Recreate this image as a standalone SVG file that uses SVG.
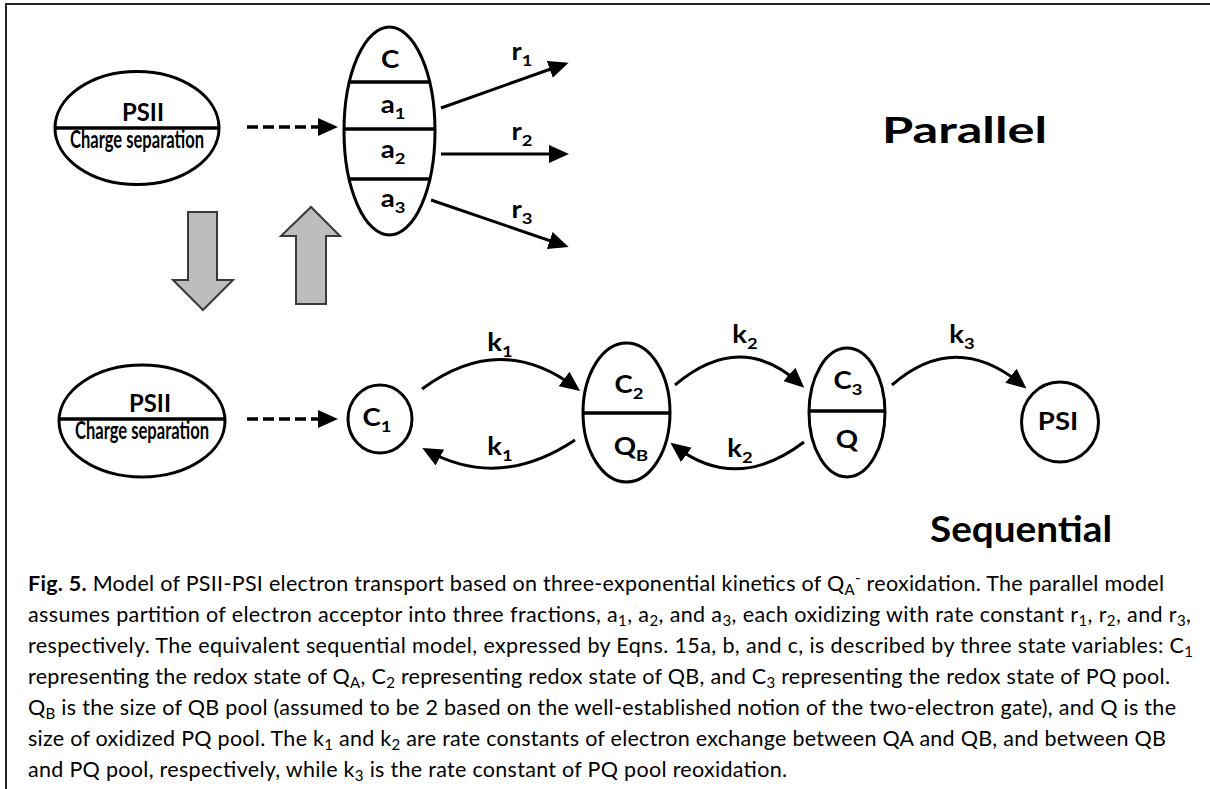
<svg xmlns="http://www.w3.org/2000/svg" width="1210" height="789" viewBox="0 0 1210 789">
  <style>
    .shape { fill: #ffffff; stroke: #000000; stroke-width: 3; }
    .div { stroke: #000000; stroke-width: 3.5; }
    .lbl { font-family: Lato, "Liberation Sans", sans-serif; font-weight: bold; font-size: 24px; fill: #000000; text-anchor: middle; }
    .sub { font-size: 16px; }
    .big { font-family: Lato, "Liberation Sans", sans-serif; font-weight: bold; font-size: 37px; fill: #000000; }
    .cap { font-family: Lato, "Liberation Sans", sans-serif; font-size: 21.5px; fill: #000000; }
    .csub { font-size: 15px; }
    .link { fill: none; stroke: #000000; stroke-width: 3; }
    .dash { fill: none; stroke: #000000; stroke-width: 3.5; stroke-dasharray: 11 5; }
    .block { fill: #bdbdbd; stroke: #3a3a3a; stroke-width: 2; }
    .frame { stroke: #222222; stroke-width: 2; }
  </style>
  <defs>
    <marker id="head" markerUnits="userSpaceOnUse" markerWidth="20" markerHeight="18" refX="13" refY="9" orient="auto">
      <path d="M0,0 L20,9 L0,18 Z" fill="#000000"/>
    </marker>
  </defs>

  <!-- frame: top and left rules -->
  <line class="frame" x1="5" y1="4" x2="1210" y2="4"/>
  <line class="frame" x1="6" y1="3" x2="6" y2="789"/>

  <!-- parallel model -->
  <g id="psii-parallel">
    <ellipse class="shape" cx="137" cy="128" rx="82" ry="56.5"/>
    <line class="div" x1="55" y1="128" x2="219" y2="128"/>
    <text class="lbl" x="122" y="121" font-size="23" style="text-anchor:start" textLength="42" lengthAdjust="spacingAndGlyphs">PSII</text>
    <text class="lbl" x="70" y="148" font-size="13.5" style="text-anchor:start" textLength="134" lengthAdjust="spacingAndGlyphs">Charge separation</text>
  </g>

  <g id="acceptor-pool">
    <ellipse class="shape" cx="389.5" cy="131" rx="45.5" ry="104"/>
    <line class="div" x1="349.4" y1="82" x2="429.6" y2="82"/>
    <line class="div" x1="344" y1="129" x2="435" y2="129"/>
    <line class="div" x1="349" y1="179" x2="430" y2="179"/>
    <text class="lbl" transform="translate(390,68) scale(1.15,1)">C</text>
    <text class="lbl" transform="translate(393,113) scale(1.15,1)">a<tspan class="sub" dy="6">1</tspan></text>
    <text class="lbl" transform="translate(393,158) scale(1.15,1)">a<tspan class="sub" dy="6">2</tspan></text>
    <text class="lbl" transform="translate(393,207) scale(1.15,1)">a<tspan class="sub" dy="6">3</tspan></text>
  </g>

  <g id="label-parallel">
    <text class="big" x="882" y="143" textLength="165" lengthAdjust="spacingAndGlyphs">Parallel</text>
  </g>

  <!-- model switch arrows -->
  <g id="to-sequential">
    <polygon class="block" points="188,212 217,212 217,280 233,280 203,310 173,280 188,280"/>
  </g>
  <g id="to-parallel">
    <polygon class="block" points="296,304 326,304 326,236 340,236 311,207 281,236 296,236"/>
  </g>

  <!-- sequential model -->
  <g id="psii-sequential">
    <ellipse class="shape" cx="142" cy="421" rx="83" ry="56"/>
    <line class="div" x1="59" y1="419" x2="225" y2="419"/>
    <text class="lbl" x="129" y="412" font-size="23" style="text-anchor:start" textLength="42" lengthAdjust="spacingAndGlyphs">PSII</text>
    <text class="lbl" x="75" y="439" font-size="13.5" style="text-anchor:start" textLength="134" lengthAdjust="spacingAndGlyphs">Charge separation</text>
  </g>

  <g id="c1">
    <ellipse class="shape" cx="380" cy="419" rx="32" ry="34"/>
    <text class="lbl" transform="translate(377,426) scale(1.15,1)">C<tspan class="sub" dy="6">1</tspan></text>
  </g>

  <g id="c2-qb">
    <ellipse class="shape" cx="626.5" cy="412.5" rx="43.5" ry="69.5"/>
    <line class="div" x1="583" y1="413" x2="670" y2="413"/>
    <text class="lbl" transform="translate(629,393) scale(1.15,1)">C<tspan class="sub" dy="6">2</tspan></text>
    <text class="lbl" transform="translate(631,455) scale(1.15,1)">Q<tspan class="sub" dy="6">B</tspan></text>
  </g>

  <g id="c3-q">
    <ellipse class="shape" cx="847" cy="412.5" rx="38" ry="64.5"/>
    <line class="div" x1="809" y1="411" x2="885" y2="411"/>
    <text class="lbl" transform="translate(848,389) scale(1.15,1)">C<tspan class="sub" dy="6">3</tspan></text>
    <text class="lbl" transform="translate(847,448) scale(1.15,1)">Q</text>
  </g>

  <g id="psi">
    <ellipse class="shape" cx="1060" cy="422" rx="38.5" ry="40"/>
    <text class="lbl" transform="translate(1058,430) scale(1.15,1)">PSI</text>
  </g>

  <g id="label-sequential">
    <text class="big" x="930" y="542" textLength="182" lengthAdjust="spacingAndGlyphs">Sequential</text>
  </g>

  <!-- connectors -->
  <g id="connectors">
    <path class="dash" d="M247,127 H331" marker-end="url(#head)"/>
    <path class="link" d="M441,108 L562,65" marker-end="url(#head)"/>
    <path class="link" d="M441,154 L562,154" marker-end="url(#head)"/>
    <path class="link" d="M431,200 L562,244.8" marker-end="url(#head)"/>

    <path class="dash" d="M247,419 H331" marker-end="url(#head)"/>
    <path class="link" d="M422,389 Q500,331 574.5,386.8" marker-end="url(#head)"/>
    <path class="link" d="M575,440 Q500,490 428.4,451.3" marker-end="url(#head)"/>
    <path class="link" d="M675,385 Q740,330 799,383" marker-end="url(#head)"/>
    <path class="link" d="M804,442 Q737,493 676,447" marker-end="url(#head)"/>
    <path class="link" d="M892,385 Q955,330 1021,384" marker-end="url(#head)"/>
  </g>

  <g id="rate-labels">
    <text class="lbl" transform="translate(522,60) scale(1.15,1)">r<tspan class="sub" dy="6">1</tspan></text>
    <text class="lbl" transform="translate(522,140) scale(1.15,1)">r<tspan class="sub" dy="6">2</tspan></text>
    <text class="lbl" transform="translate(522,218) scale(1.15,1)">r<tspan class="sub" dy="6">3</tspan></text>
    <text class="lbl" transform="translate(500,351) scale(1.15,1)">k<tspan class="sub" dy="6">1</tspan></text>
    <text class="lbl" transform="translate(500,455) scale(1.15,1)">k<tspan class="sub" dy="6">1</tspan></text>
    <text class="lbl" transform="translate(745,343) scale(1.15,1)">k<tspan class="sub" dy="6">2</tspan></text>
    <text class="lbl" transform="translate(740,457) scale(1.15,1)">k<tspan class="sub" dy="6">2</tspan></text>
    <text class="lbl" transform="translate(962,343) scale(1.15,1)">k<tspan class="sub" dy="6">3</tspan></text>
  </g>

  <!-- figure caption -->
  <g id="caption">
    <text class="cap" x="28" y="591" textLength="1136"><tspan font-weight="bold">Fig. 5.</tspan> Model of PSII-PSI electron transport based on three-exponential kinetics of Q<tspan class="csub" dy="4">A</tspan><tspan class="csub" dy="-12">-</tspan><tspan dy="8"> reoxidation. The parallel model</tspan></text>
    <text class="cap" x="28" y="622" textLength="1163">assumes partition of electron acceptor into three fractions, a<tspan class="csub" dy="4">1</tspan><tspan dy="-4">, a</tspan><tspan class="csub" dy="4">2</tspan><tspan dy="-4">, and a</tspan><tspan class="csub" dy="4">3</tspan><tspan dy="-4">, each oxidizing with rate constant r</tspan><tspan class="csub" dy="4">1</tspan><tspan dy="-4">, r</tspan><tspan class="csub" dy="4">2</tspan><tspan dy="-4">, and r</tspan><tspan class="csub" dy="4">3</tspan><tspan dy="-4">,</tspan></text>
    <text class="cap" x="28" y="653" textLength="1165">respectively. The equivalent sequential model, expressed by Eqns. 15a, b, and c, is described by three state variables: C<tspan class="csub" dy="4">1</tspan></text>
    <text class="cap" x="28" y="684" textLength="1142">representing the redox state of Q<tspan class="csub" dy="4">A</tspan><tspan dy="-4">, C</tspan><tspan class="csub" dy="4">2</tspan><tspan dy="-4"> representing redox state of QB, and C</tspan><tspan class="csub" dy="4">3</tspan><tspan dy="-4"> representing the redox state of PQ pool.</tspan></text>
    <text class="cap" x="28" y="715" textLength="1148">Q<tspan class="csub" dy="4">B</tspan><tspan dy="-4"> is the size of QB pool (assumed to be 2 based on the well-established notion of the two-electron gate), and Q is the</tspan></text>
    <text class="cap" x="28" y="746" textLength="1138">size of oxidized PQ pool. The k<tspan class="csub" dy="4">1</tspan><tspan dy="-4"> and k</tspan><tspan class="csub" dy="4">2</tspan><tspan dy="-4"> are rate constants of electron exchange between QA and QB, and between QB</tspan></text>
    <text class="cap" x="28" y="777" textLength="759">and PQ pool, respectively, while k<tspan class="csub" dy="4">3</tspan><tspan dy="-4"> is the rate constant of PQ pool reoxidation.</tspan></text>
  </g>
</svg>
